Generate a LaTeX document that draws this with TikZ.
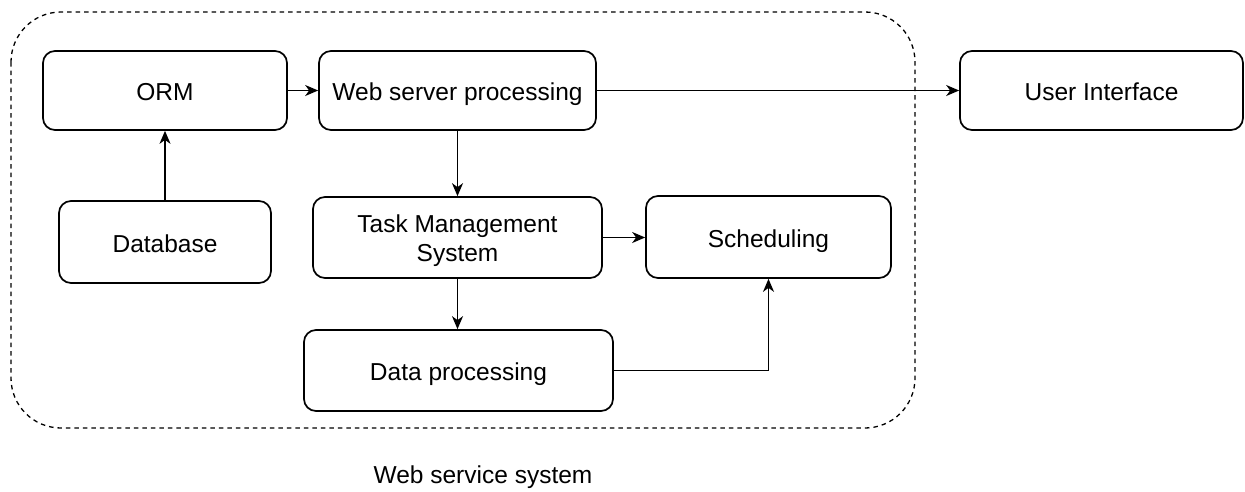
\documentclass[tikz,border=0pt]{standalone}
\usepackage{fontspec}
\setmainfont{Liberation Sans}
\usetikzlibrary{arrows.meta}
\begin{document}
\begin{tikzpicture}[x=1pt,y=-1pt,
  txt/.style={font=\fontsize{24.5}{29.5}\selectfont, inner sep=0pt, text height=20pt, text depth=0pt},
  box/.style={txt, draw, line width=1.7pt, rounded corners=12pt, align=center},
  flow/.style={line width=1.6pt, -{Stealth[length=13pt,width=11pt,inset=4pt]}},
  group/.style={draw, line width=1.3pt, dash pattern=on 4.5pt off 4pt, rounded corners=50pt}
]
\useasboundingbox (0,0) rectangle (1245,491);

% dashed container of the web service
\draw[group] (11,12) rectangle (915,428);
\node[txt] (grouplabel) at (483,473) {Web service system};

% components
\node[box, minimum width=244pt, minimum height=79pt] (orm) at (165,90.5) {ORM};
\node[box, minimum width=277pt, minimum height=79pt] (web) at (457.5,90.5) {Web server processing};
\node[box, minimum width=283pt, minimum height=79pt] (ui) at (1101.5,90.5) {User Interface};
\node[box, minimum width=212pt, minimum height=82pt] (db) at (165,242) {Database};
\node[box, minimum width=289pt, minimum height=81pt, text height=48pt, text depth=0pt] (tms) at (457.5,237.5) {Task Management\\System};
\node[box, minimum width=245pt, minimum height=82pt] (sched) at (768.5,237) {Scheduling};
\node[box, minimum width=309pt, minimum height=81pt] (data) at (458.5,370.5) {Data processing};

% connectors
\draw[flow] (orm.east) -- (web.west);
\draw[flow] (db.north) -- (orm.south);
\draw[flow] (web.east) -- (ui.west);
\draw[flow] (web.south) -- (tms.north);
\draw[flow] (tms.east) -- (tms.east -| sched.west);
\draw[flow] (tms.south) -- (tms.south |- data.north);
\draw[flow] (data.east) -| (sched.south);
\end{tikzpicture}
\end{document}
